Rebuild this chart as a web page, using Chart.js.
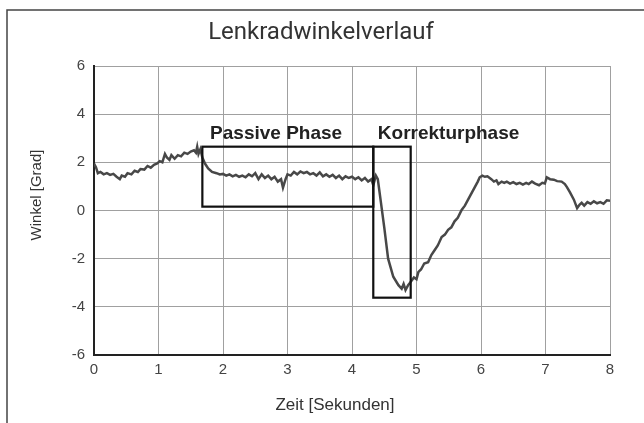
<!DOCTYPE html>
<html>
<head>
<meta charset="utf-8">
<script src="https://cdn.jsdelivr.net/npm/chart.js@4"></script>
<style>
	html, body { margin: 0; padding: 0; background: #fff; }
	#wrap { width: 644px; height: 423px; }
</style>
</head>
<body>
<div id="wrap"><canvas id="lenkradChart" width="644" height="423"></canvas></div>
<script>
// Zeit in Sekunden
const timeSec = [
	0, 0.03, 0.06, 0.1, 0.15, 0.2, 0.25, 0.3, 0.35, 0.4, 0.43, 0.48, 0.52, 0.58, 0.63, 0.68,
	0.72, 0.78, 0.83, 0.88, 0.93, 0.98, 1.02, 1.06, 1.1, 1.13, 1.17, 1.2, 1.25, 1.3, 1.35, 1.4,
	1.45, 1.5, 1.55, 1.58, 1.6, 1.62, 1.65, 1.68, 1.72, 1.77, 1.83, 1.9, 1.95, 2.0,
	2.05, 2.1, 2.15, 2.2, 2.25, 2.3, 2.35, 2.4, 2.45, 2.5, 2.55, 2.6, 2.65, 2.7, 2.75, 2.8,
	2.85, 2.9, 2.93, 2.97, 3.0, 3.05, 3.1, 3.15, 3.2, 3.25, 3.3, 3.35, 3.4, 3.45, 3.5, 3.55,
	3.6, 3.65, 3.7, 3.75, 3.8, 3.85, 3.9, 3.95, 4.0, 4.05, 4.1, 4.15, 4.2, 4.25, 4.3, 4.33,
	4.37, 4.4, 4.44, 4.5, 4.56, 4.64, 4.72, 4.77, 4.8, 4.83, 4.87, 4.9, 4.96, 5.0, 5.03, 5.07,
	5.12, 5.18, 5.23, 5.28, 5.33, 5.39, 5.44, 5.49, 5.54, 5.59, 5.64, 5.7, 5.75, 5.81, 5.86, 5.9,
	5.95, 5.98, 6.02, 6.06, 6.1, 6.16, 6.2, 6.24, 6.27, 6.32, 6.36, 6.4, 6.45, 6.5, 6.55, 6.6,
	6.65, 6.7, 6.74, 6.79, 6.84, 6.9, 6.95, 6.99, 7.02, 7.07, 7.13, 7.18, 7.25, 7.3, 7.33, 7.38,
	7.44, 7.49, 7.53, 7.56, 7.6, 7.65, 7.7, 7.75, 7.8, 7.85, 7.9, 7.95, 8.0
];

// Lenkradwinkel in Grad
const angleDeg = [
	1.95, 1.8, 1.55, 1.6, 1.5, 1.55, 1.48, 1.52, 1.4, 1.3, 1.45, 1.4, 1.55, 1.5, 1.65, 1.6,
	1.72, 1.7, 1.85, 1.78, 1.9, 1.95, 2.05, 2.0, 2.35, 2.2, 2.1, 2.3, 2.15, 2.3, 2.25, 2.4,
	2.35, 2.45, 2.5, 2.4, 2.65, 2.35, 2.55, 2.2, 1.95, 1.75, 1.6, 1.55, 1.5, 1.52,
	1.45, 1.5, 1.42, 1.48, 1.4, 1.45, 1.38, 1.5, 1.42, 1.55, 1.3, 1.5, 1.35, 1.45, 1.3, 1.4,
	1.2, 1.3, 0.95, 1.3, 1.5, 1.45, 1.6, 1.5, 1.62, 1.55, 1.6, 1.5, 1.55, 1.45, 1.58, 1.42,
	1.5, 1.4, 1.48, 1.35, 1.45, 1.3, 1.42, 1.35, 1.4, 1.3, 1.38, 1.25, 1.35, 1.2, 1.3, 1.05,
	1.45, 1.3, 0.5, -0.7, -2.0, -2.75, -3.1, -3.25, -3.05, -3.3, -3.1, -3.0, -2.78, -2.85, -2.55, -2.45,
	-2.2, -2.15, -1.85, -1.65, -1.45, -1.1, -1.0, -0.8, -0.7, -0.45, -0.3, 0.02, 0.2, 0.5, 0.75, 0.95,
	1.2, 1.38, 1.45, 1.4, 1.42, 1.3, 1.2, 1.25, 1.1, 1.2, 1.15, 1.2, 1.12, 1.18, 1.1, 1.15,
	1.08, 1.15, 1.1, 1.2, 1.12, 1.05, 1.15, 1.12, 1.38, 1.3, 1.28, 1.22, 1.2, 1.1, 0.98, 0.75,
	0.45, 0.1, 0.25, 0.32, 0.2, 0.35, 0.28, 0.38, 0.3, 0.35, 0.28, 0.42, 0.4
];

// Phasen-Rahmen (Zeit von/bis, Winkel von/bis)
const phaseNames = ["Passive Phase", "Korrekturphase"];
const phaseStart = [1.68, 4.33];
const phaseEnd = [4.33, 4.91];
const phaseLow = [0.16, -3.62];
const phaseHigh = [2.65, 2.65];

const xTicks = [0, 1, 2, 3, 4, 5, 6, 7, 8];
const yTicks = [-6, -4, -2, 0, 2, 4, 6];

const chartTitle = "Lenkradwinkelverlauf";
const xTitle = "Zeit [Sekunden]";
const yTitle = "Winkel [Grad]";

const points = timeSec.map((t, i) => ({ x: t, y: angleDeg[i] }));

// draws frame, title, axis titles, phase boxes and their labels
const overlayPlugin = {
	id: "overlay",
	beforeDraw(chart) {
		const ctx = chart.ctx;
		ctx.save();
		ctx.fillStyle = "#fff";
		ctx.fillRect(0, 0, chart.width, chart.height);
		ctx.strokeStyle = "#444";
		ctx.lineWidth = 1.5;
		ctx.beginPath();
		ctx.moveTo(7, chart.height);
		ctx.lineTo(7, 10);
		ctx.lineTo(chart.width, 10);
		ctx.stroke();
		ctx.restore();
	},
	afterDatasetsDraw(chart) {
		const ctx = chart.ctx;
		const xs = chart.scales.x;
		const ys = chart.scales.y;
		ctx.save();

		// phase boxes
		ctx.strokeStyle = "#111";
		ctx.lineWidth = 2.2;
		phaseNames.forEach((name, i) => {
			const x1 = xs.getPixelForValue(phaseStart[i]);
			const x2 = xs.getPixelForValue(phaseEnd[i]);
			const y1 = ys.getPixelForValue(phaseHigh[i]);
			const y2 = ys.getPixelForValue(phaseLow[i]);
			ctx.strokeRect(x1, y1, x2 - x1, y2 - y1);
		});

		// phase labels
		ctx.fillStyle = "#222";
		ctx.font = "bold 19px 'Liberation Sans', Arial, sans-serif";
		ctx.textBaseline = "alphabetic";
		ctx.textAlign = "left";
		ctx.fillText(phaseNames[0], xs.getPixelForValue(1.8), 139);
		ctx.fillText(phaseNames[1], xs.getPixelForValue(4.4), 139);

		// title
		ctx.fillStyle = "#333";
		ctx.font = "24px Roboto, sans-serif";
		ctx.textAlign = "center";
		ctx.textBaseline = "middle";
		ctx.fillText(chartTitle, 321, 33);

		// axis titles
		ctx.font = "17px 'Liberation Sans', Arial, sans-serif";
		ctx.fillText(xTitle, 335, 405);
		ctx.font = "15px 'Liberation Sans', Arial, sans-serif";
		ctx.translate(37, 195);
		ctx.rotate(-Math.PI / 2);
		ctx.fillText(yTitle, 0, 0);
		ctx.restore();
	},
};

const ctx = document.getElementById("lenkradChart").getContext("2d");
const lenkradChart = new Chart(ctx, {
	type: "line",
	data: {
		datasets: [
			{
				data: points,
				borderColor: "#484848",
				borderWidth: 2.5,
				pointRadius: 0,
				tension: 0,
				fill: false,
			},
		],
	},
	options: {
		responsive: false,
		animation: false,
		events: [],
		layout: {
			padding: { left: 0, right: 34, top: 66, bottom: 38 },
		},
		plugins: {
			legend: { display: false },
			tooltip: { enabled: false },
		},
		scales: {
			x: {
				type: "linear",
				min: 0,
				max: 8,
				afterBuildTicks: (scale) => {
					scale.ticks = xTicks.map((v) => ({ value: v }));
				},
				afterFit: (scale) => {
					scale.height = 30;
				},
				ticks: {
					color: "#444",
					font: { family: "'Liberation Sans', Arial, sans-serif", size: 15 },
					padding: 6,
				},
				grid: { color: "#a0a0a0", lineWidth: 1, drawTicks: false },
				border: { color: "#222", width: 2 },
			},
			y: {
				type: "linear",
				min: -6,
				max: 6,
				afterBuildTicks: (scale) => {
					scale.ticks = yTicks.map((v) => ({ value: v }));
				},
				afterFit: (scale) => {
					scale.width = 94;
				},
				ticks: {
					color: "#444",
					font: { family: "'Liberation Sans', Arial, sans-serif", size: 15 },
					padding: 9,
				},
				grid: { color: "#a0a0a0", lineWidth: 1, drawTicks: false },
				border: { color: "#222", width: 2 },
			},
		},
	},
	plugins: [overlayPlugin],
});
</script>
</body>
</html>
